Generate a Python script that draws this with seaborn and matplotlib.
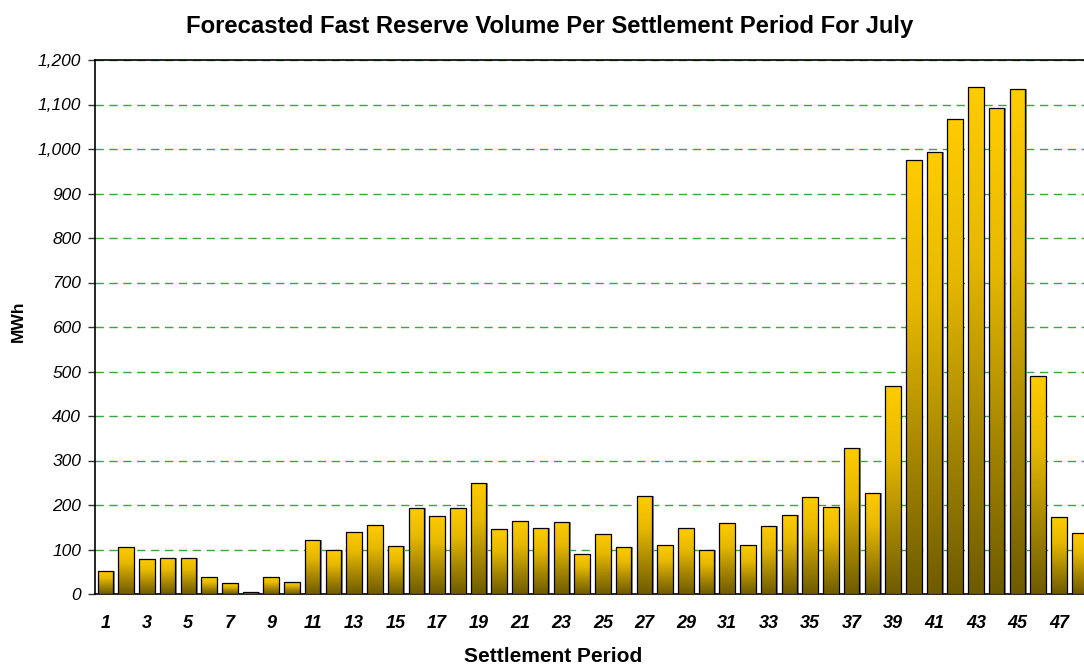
import matplotlib
matplotlib.use("Agg")
import matplotlib.pyplot as plt
import numpy as np
import pandas as pd
import seaborn as sns
from matplotlib.colors import LinearSegmentedColormap
from matplotlib.patches import Rectangle
from matplotlib.ticker import FuncFormatter, FixedLocator

# valores (MWh por período)
periods = list(range(1, 49))
volumes = [52, 105, 78, 80, 82, 38, 24, 5, 38, 27,
           122, 98, 140, 155, 107, 193, 175, 193, 250, 145,
           165, 148, 162, 90, 135, 105, 220, 110, 148, 100,
           160, 110, 153, 177, 218, 195, 328, 228, 467, 975,
           993, 1068, 1140, 1093, 1135, 490, 172, 138]
y_ticks = list(range(0, 1300, 100))

df = pd.DataFrame({"period": [str(p) for p in periods], "mwh": volumes})

sns.set_theme(style="white", rc={"text.color": "black", "axes.labelcolor": "black",
                                 "xtick.color": "black", "ytick.color": "black"})
plt.rcParams["font.family"] = ["Liberation Sans", "DejaVu Sans"]

fig = plt.figure(figsize=(10.84, 6.66), dpi=100)
ax = fig.add_axes([95 / 1084, 1 - 594 / 666, 995 / 1084, 534 / 666])

sns.barplot(data=df, x="period", y="mwh", ax=ax, width=0.75,
            color="#FFCC00", edgecolor="black", linewidth=0.9, zorder=3)

# degradê amarelo -> oliva em cada barra
cmap = LinearSegmentedColormap.from_list("ouro", ["#6E5B00", "#A88800", "#E6B800", "#FFCC00"])
grad = np.linspace(0, 1, 256).reshape(-1, 1)
for p in list(ax.patches):
    x0, y0 = p.get_x(), p.get_y()
    w, h = p.get_width(), p.get_height()
    sh = Rectangle((x0 + 0.07, y0), w, h, facecolor="#8a8a8a", edgecolor="none", zorder=2)
    ax.add_patch(sh)
    im = ax.imshow(grad, cmap=cmap, aspect="auto", origin="lower",
                   extent=(x0, x0 + w, y0, y0 + h), zorder=3)
    im.set_clip_path(p)
    p.set_facecolor("none")
    p.set_zorder(4)

ax.set_xlim(-0.5, 47.5)
ax.set_ylim(0, 1200)
ax.set_yticks(y_ticks)
ax.yaxis.set_major_formatter(FuncFormatter(lambda v, _: f"{int(v):,}"))
for lbl in ax.get_yticklabels():
    lbl.set_fontstyle("italic")
    lbl.set_fontsize(12.5)

ax.set_xticks(range(0, 48, 2))
ax.set_xticklabels([str(p) for p in periods[::2]], fontsize=13,
                   fontweight="bold", fontstyle="italic")
ax.xaxis.set_minor_locator(FixedLocator(np.arange(-0.5, 48, 1)))
ax.tick_params(axis="x", which="major", length=0, pad=15)
ax.tick_params(axis="x", which="minor", length=5, width=1, color="#333333", direction="out")
ax.tick_params(axis="y", length=5, width=1, color="#333333", direction="out", left=True, pad=5)

ax.yaxis.grid(True, color="#3FA33F", linestyle=(0, (6, 4)), linewidth=1, zorder=0)
ax.set_axisbelow(True)
for s in ["left", "bottom", "top", "right"]:
    ax.spines[s].set_color("black")
    ax.spines[s].set_linewidth(1.2)

ax.set_xlabel("Settlement Period", fontsize=15, fontweight="bold", va="center")
ax.xaxis.set_label_coords((553 - 95) / 995, -(656 - 594) / 534)
ax.set_ylabel("MWh", fontsize=12.5, fontweight="bold", va="center")
ax.yaxis.set_label_coords(-(95 - 18) / 995, (594 - 321) / 534)
fig.text(550 / 1084, 1 - 27 / 666, "Forecasted Fast Reserve Volume Per Settlement Period For July",
         ha="center", va="center", fontsize=17.2, fontweight="bold")

fig.savefig("out.png", dpi=100)
plt.close(fig)
